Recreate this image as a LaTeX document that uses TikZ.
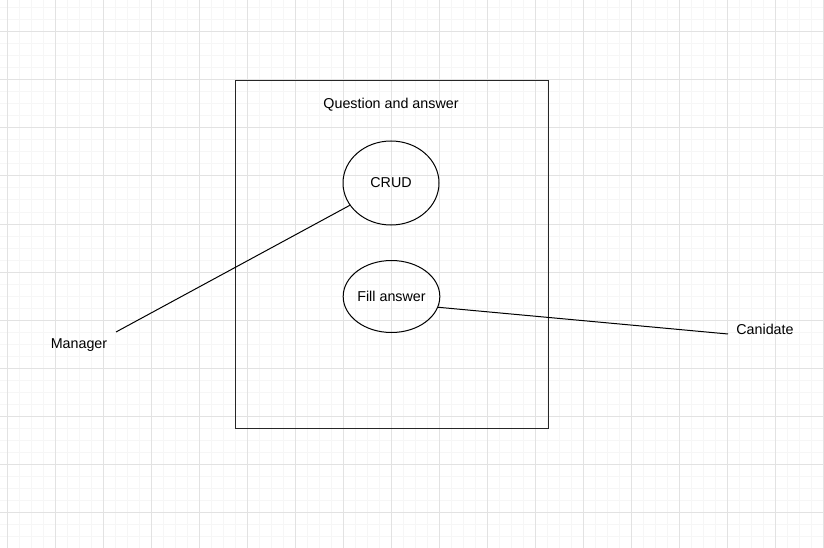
\documentclass[tikz,border=0pt]{standalone}
\usepackage{fontspec}
\setmainfont{Liberation Sans}
\usetikzlibrary{shapes.geometric}
\definecolor{gridminor}{HTML}{F6F6F6}
\definecolor{gridmajor}{HTML}{E2E2E2}
\tikzset{
  usecase/.style={draw=black, line width=1pt, ellipse, inner sep=0pt, font=\fontsize{14.3}{16}\selectfont},
  lbl/.style={inner sep=0pt, font=\fontsize{14.3}{16}\selectfont},
  conn/.style={draw=black, line width=1pt},
  systembox/.style={draw=black!85, line width=1pt}
}
\begin{document}
\begin{tikzpicture}[x=1pt, y=-1pt]
\useasboundingbox (0,0) rectangle (824,548);
\fill[white] (0,0) rectangle (824,548);
% grid
\foreach \x in {7,19,...,823} \draw[gridminor, line width=1pt] (\x,0) -- (\x,548);
\foreach \y in {8,20,...,548} \draw[gridminor, line width=1pt] (0,\y) -- (824,\y);
\foreach \x in {7,55,...,823} \draw[gridmajor, line width=1pt] (\x,0) -- (\x,548);
\foreach \y in {32,80,...,548} \draw[gridmajor, line width=1pt] (0,\y) -- (824,\y);
% system boundary
\node[systembox, minimum width=313pt, minimum height=348pt, inner sep=0pt, anchor=north west] (sys) at (235,80) {};
\node[lbl] (title) at (391,105) {Question and answer};
% use cases
\node[usecase, minimum width=96pt, minimum height=84pt] (crud) at (391,183) {CRUD};
\node[usecase, minimum width=96pt, minimum height=72pt] (fill) at (391.5,296.5) {Fill answer};
% actors
\node[lbl] (manager) at (79,345) {Manager};
\node[lbl] (canidate) at (765,329) {Canidate};
\coordinate (mend) at (116,332);
\coordinate (cend) at (728,334);
% connectors
\draw[conn] (crud) -- (mend);
\draw[conn] (fill.-13) -- (cend);
\end{tikzpicture}
\end{document}
